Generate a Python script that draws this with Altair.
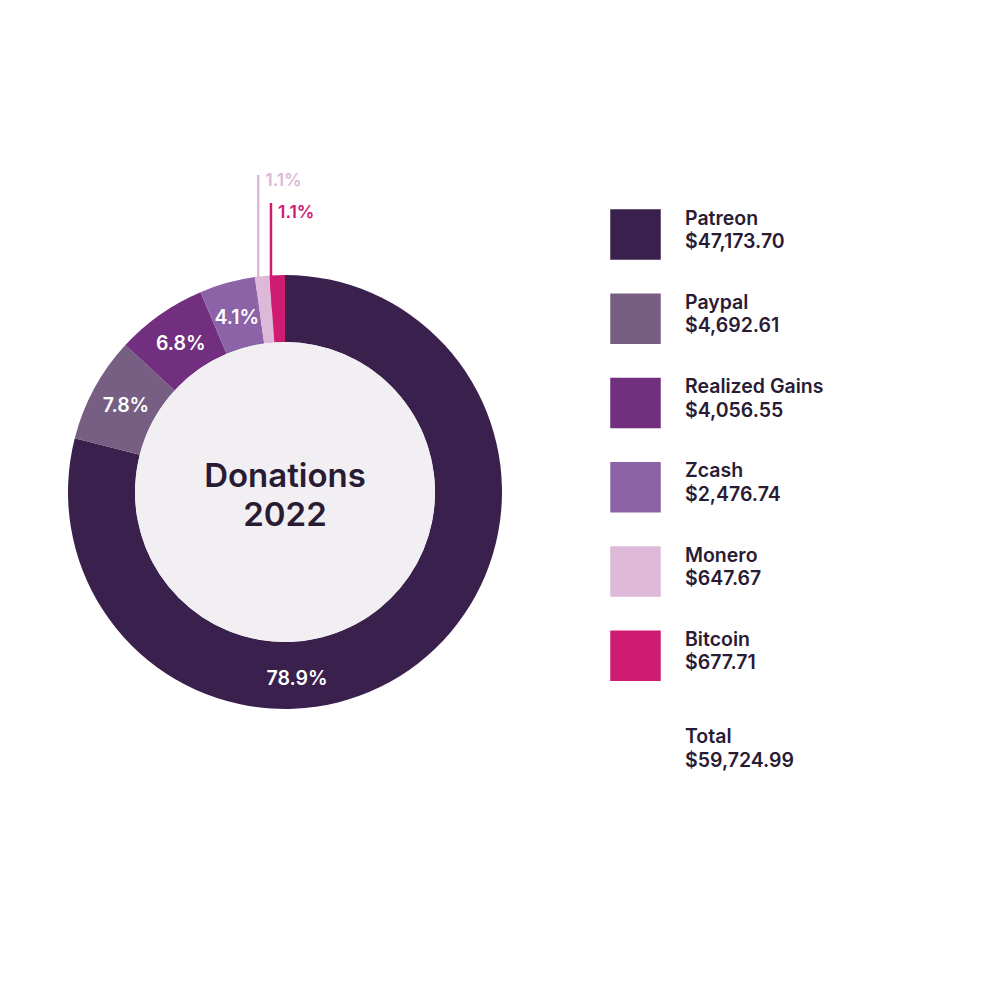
import altair as alt
import pandas as pd

# ---- data ----
names = ["Patreon", "Paypal", "Realized Gains", "Zcash", "Monero", "Bitcoin"]
amounts = [47173.70, 4692.61, 4056.55, 2476.74, 647.67, 677.71]
pct_labels = ["78.9%", "7.8%", "6.8%", "4.1%", "1.1%", "1.1%"]
colors = ["#3a214d", "#765f82", "#722f80", "#8b63a6", "#deb8d8", "#d01b73"]
total_label = "Total"
total_amount = 59724.99
center_title = ["Donations", "2022"]

FONT = "Inter"
WEIGHT = 600
DARK = "#2a1b35"
CX, CY = 277, 484
R_OUT, R_IN = 217, 150

df = pd.DataFrame({"name": names, "amount": amounts, "pct": pct_labels,
                   "idx": list(range(len(names)))})
total_df = pd.DataFrame({"name": [total_label], "amount": [total_amount], "idx": [len(names)]})
title_df = pd.DataFrame({"t": ["\n".join(center_title)]})

color = alt.Color("name:N", scale=alt.Scale(domain=names, range=colors), legend=None)
theta = alt.Theta("amount:Q", stack=True)
order = alt.Order("idx:Q")
cx, cy = alt.value(CX), alt.value(CY)

# callout geometry from the stacked values
callout = (alt.Chart(df)
           .transform_joinaggregate(tot="sum(amount)")
           .transform_window(cum="sum(amount)", sort=[alt.SortField("idx")], frame=[None, 0])
           .transform_calculate(ang="2*PI*(datum.cum - datum.amount/2)/datum.tot",
                                lx=f"{CX} - 7.5 + 183*sin(datum.ang)"))

def callout_layers(name, top, label_y):
    src = callout.transform_filter(f"datum.name == '{name}'")
    rule = src.mark_rule(strokeWidth=2.5).encode(
        x=alt.X("lx:Q", scale=None), y=alt.value(top), y2=alt.value(CY), color=color)
    txt = src.mark_text(align="left", baseline="middle", dx=7, font=FONT,
                        fontWeight=WEIGHT, fontSize=17.5).encode(
        x=alt.X("lx:Q", scale=None), y=alt.value(label_y), text="pct:N", color=color)
    return rule, txt

m_rule, m_txt = callout_layers("Monero", 167, 173)
b_rule, b_txt = callout_layers("Bitcoin", 195, 205)

arcs = alt.Chart(df).mark_arc(outerRadius=R_OUT, innerRadius=R_IN).encode(
    theta=theta, order=order, color=color, x=cx, y=cy)

disk = alt.Chart(title_df).mark_arc(radius=R_IN, theta=0, theta2=6.2832,
                                    color="#f1eff2").encode(x=cx, y=cy)

slice_labels = (alt.Chart(df)
                .transform_calculate(lab="datum.idx >= 1 && datum.idx <= 3 ? datum.pct : ''")
                .mark_text(radius=181, font=FONT, fontWeight=WEIGHT, fontSize=19.5, color="white")
                .encode(theta=theta, order=order, text="lab:N", x=cx, y=cy))

patreon_label = (alt.Chart(df).transform_filter("datum.idx == 0")
                 .mark_text(radius=187, theta=3.077, font=FONT, fontWeight=WEIGHT,
                            fontSize=19.5, color="white")
                 .encode(text="pct:N", x=cx, y=cy))

center = alt.Chart(title_df).mark_text(font=FONT, fontWeight=WEIGHT, fontSize=33,
                                       lineHeight=39, lineBreak="\n", color=DARK,
                                       baseline="middle").encode(
    text="t:N", x=cx, y=alt.value(CY - 15))

ysc = alt.Scale(domain=[0, 6], range=[226.5, 732])
squares = alt.Chart(df).mark_square(size=2550, opacity=1, filled=True).encode(
    x=alt.value(627.5), y=alt.Y("idx:Q", scale=ysc, axis=None), color=color)

def legend_text(data, dy):
    return (alt.Chart(data)
            .transform_calculate(lab="datum.name + '\\n' + format(datum.amount, '$,.2f')")
            .mark_text(align="left", baseline="middle", dy=dy, font=FONT, fontWeight=WEIGHT,
                       fontSize=19.5, lineHeight=23.5, lineBreak="\n", color=DARK)
            .encode(x=alt.value(677), y=alt.Y("idx:Q", scale=ysc, axis=None), text="lab:N"))

chart = alt.layer(
    m_rule, b_rule, arcs, disk, slice_labels, patreon_label, center,
    m_txt, b_txt, squares, legend_text(df, -16), legend_text(total_df, -3)
).properties(width=985, height=984, padding=0, autosize="none",
             background="white").configure_view(stroke=None)

chart.save("out.html", embed_options={"renderer": "svg", "actions": False})
